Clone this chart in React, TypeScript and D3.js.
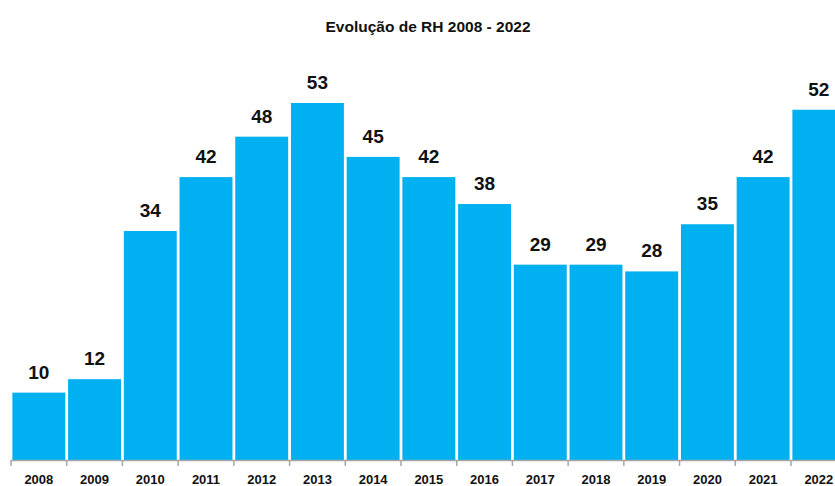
import React, { useEffect, useRef } from "react";
import * as d3 from "d3";

const years = ["2008", "2009", "2010", "2011", "2012", "2013", "2014", "2015", "2016", "2017", "2018", "2019", "2020", "2021", "2022"];
const headcount = [10, 12, 34, 42, 48, 53, 45, 42, 38, 29, 29, 28, 35, 42, 52];
const title = "Evolução de RH 2008 - 2022";

function App() {
  const ref = useRef<SVGSVGElement>(null);

  useEffect(() => {
    const width = 835;
    const svg = d3.select(ref.current);
    svg.selectAll("*").remove();

    const font = "Liberation Sans, Arial, sans-serif";

    // x: band scale, last bar runs off the right edge like in the original
    const x = d3.scaleBand().domain(years).range([11, 846.7]).paddingInner(0.05).paddingOuter(0.025);
    const y = d3.scaleLinear().domain([0, 53]).range([460, 103]);

    svg
      .append("text")
      .attr("x", 428)
      .attr("y", 32)
      .attr("text-anchor", "middle")
      .style("font-family", font)
      .style("font-weight", "bold")
      .style("font-size", "15.5px")
      .style("fill", "#111")
      .text(title);

    // bars
    svg
      .selectAll(".bar")
      .data(headcount)
      .enter()
      .append("rect")
      .attr("class", "bar")
      .attr("x", (d, i) => x(years[i])!)
      .attr("y", (d) => y(d))
      .attr("width", x.bandwidth())
      .attr("height", (d) => y(0) - y(d))
      .attr("fill", "#00B0F0");

    // value labels
    svg
      .selectAll(".lbl")
      .data(headcount)
      .enter()
      .append("text")
      .attr("class", "lbl")
      .attr("x", (d, i) => x(years[i])! + x.bandwidth() / 2)
      .attr("y", (d) => y(d) - 14)
      .attr("text-anchor", "middle")
      .style("font-family", font)
      .style("font-weight", "bold")
      .style("font-size", "19px")
      .style("fill", "#111")
      .text((d) => d);

    // axis
    const step = x.step();
    const axis = svg.append("g");
    axis
      .append("line")
      .attr("x1", 11)
      .attr("x2", width)
      .attr("y1", 460.5)
      .attr("y2", 460.5)
      .attr("stroke", "#a6a6a6")
      .attr("stroke-width", 1.5);
    axis
      .selectAll(".tick")
      .data(d3.range(years.length + 1))
      .enter()
      .append("line")
      .attr("x1", (i) => 11 + i * step)
      .attr("x2", (i) => 11 + i * step)
      .attr("y1", 460)
      .attr("y2", 466)
      .attr("stroke", "#a6a6a6")
      .attr("stroke-width", 1.5);
    axis
      .selectAll(".yr")
      .data(years)
      .enter()
      .append("text")
      .attr("x", (d) => x(d)! + x.bandwidth() / 2)
      .attr("y", 484)
      .attr("text-anchor", "middle")
      .style("font-family", font)
      .style("font-weight", "bold")
      .style("font-size", "13px")
      .style("fill", "#111")
      .text((d) => d);
  }, []);

  return (
    <svg
      ref={ref}
      width={835}
      height={486}
      style={{ position: "absolute", left: 0, top: 0, background: "#fff" }}
    />
  );
}

export default App;
